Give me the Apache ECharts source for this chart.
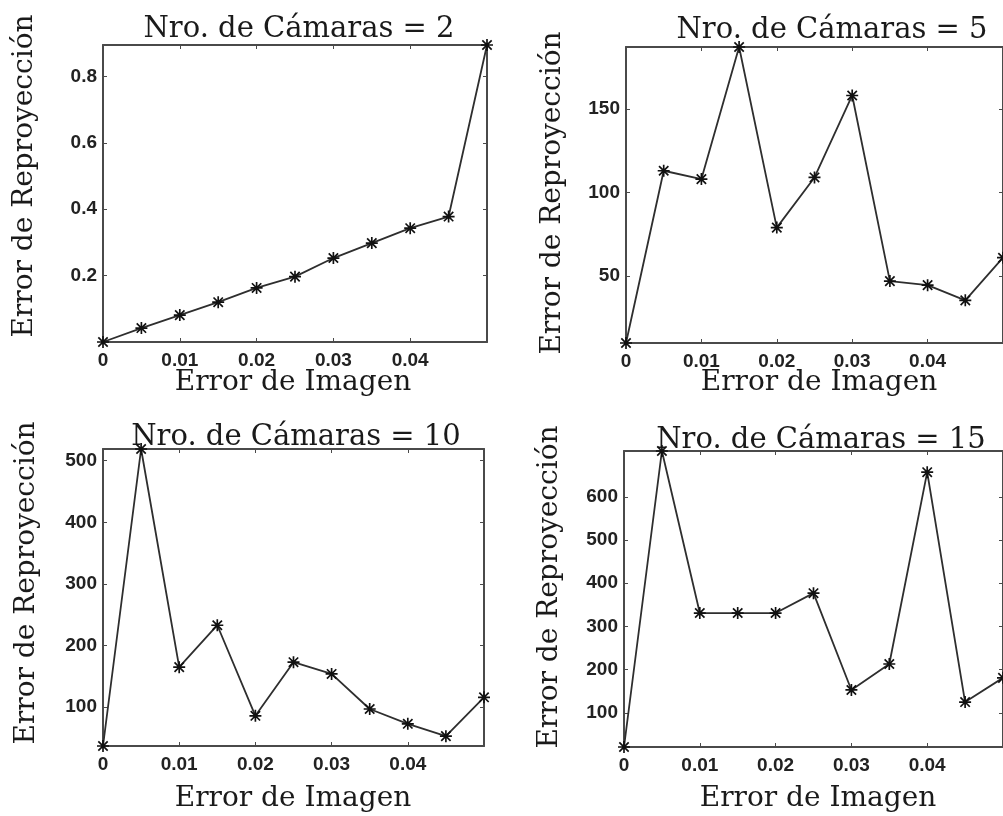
<!DOCTYPE html>
<html>
<head>
<meta charset="utf-8">
<script src="https://cdn.jsdelivr.net/npm/echarts@6/dist/echarts.min.js"></script>
<style>
html,body{margin:0;padding:0;background:#fff;}
#chart{width:1003px;height:816px;}
</style>
</head>
<body>
<div id="chart"></div>
<script>
// ---- data ----
const xValues = [0, 0.005, 0.01, 0.015, 0.02, 0.025, 0.03, 0.035, 0.04, 0.045, 0.05];
const cam2  = [0, 0.042, 0.081, 0.12, 0.163, 0.197, 0.253, 0.298, 0.343, 0.378, 0.895];
const cam5  = [10, 113, 108, 187, 79, 109, 158, 47, 44.6, 35.5, 61];
const cam10 = [37, 519, 165, 233, 86, 173, 154, 97, 73, 53, 116];
const cam15 = [21, 706, 331, 331, 331, 377, 153, 213, 657, 125, 181];
const titles = ['Nro. de Cámaras = 2', 'Nro. de Cámaras = 5', 'Nro. de Cámaras = 10', 'Nro. de Cámaras = 15'];
const xTicks = [0, 0.01, 0.02, 0.03, 0.04, 0.05];
const xTickLabels = [0, 0.01, 0.02, 0.03, 0.04];
const yTicks2  = [0.2, 0.4, 0.6, 0.8];
const yTicks5  = [50, 100, 150];
const yTicks10 = [100, 200, 300, 400, 500];
const yTicks15 = [100, 200, 300, 400, 500, 600];
const xName = 'Error de Imagen';
const yName = 'Error de Reproyección';

const seriesValues = [cam2, cam5, cam10, cam15];
const yTicksAll = [yTicks2, yTicks5, yTicks10, yTicks15];

// ---- layout ----
const grids = [
  {left: 103, top: 45, width: 384, height: 297},
  {left: 626, top: 47, width: 380, height: 296},
  {left: 103, top: 449, width: 381, height: 297},
  {left: 624, top: 451, width: 382, height: 296}
];
const titlePos = [[299, 29], [832, 30], [296, 437], [821, 440]];
const yNamePos = [[25, 176], [553, 193], [27, 583], [550, 587]];
const xNamePos = [[293, 383], [819, 383], [293, 799], [818, 799]];

const axisColor = '#4a4a4a';
const textColor = '#1a1a1a';
const serif = '"DejaVu Serif", "Liberation Serif", serif';
const tickFont = {fontFamily: '"Liberation Sans", Arial, sans-serif', fontWeight: 'bold', fontSize: 19, color: '#222'};

const asterisk = 'path://M8.6 0H11.4V20H8.6Z M0 8.6H20V11.4H0Z M1.2 3.2L3.2 1.2L18.8 16.8L16.8 18.8Z M16.8 1.2L18.8 3.2L3.2 18.8L1.2 16.8Z';

const xAxes = [], yAxes = [], series = [], graphic = [];
for (let i = 0; i < 4; i++) {
  const lineCfg = {show: true, onZero: false, lineStyle: {color: axisColor, width: 2}};
  const tickCfg = {show: true, inside: true, length: 4, lineStyle: {color: axisColor, width: 1}};
  xAxes.push({
    type: 'value', gridIndex: i, min: 0, max: 0.05, position: 'bottom',
    axisLine: lineCfg,
    axisTick: Object.assign({customValues: xTicks}, tickCfg),
    axisLabel: Object.assign({customValues: xTickLabels, margin: 9, formatter: v => String(v)}, tickFont),
    splitLine: {show: false}
  });
  xAxes.push({
    type: 'value', gridIndex: i, min: 0, max: 0.05, position: 'top',
    axisLine: lineCfg,
    axisTick: Object.assign({customValues: xTicks}, tickCfg),
    axisLabel: {show: false}, splitLine: {show: false}
  });
  yAxes.push({
    type: 'value', gridIndex: i, min: 'dataMin', max: 'dataMax', position: 'left',
    axisLine: lineCfg,
    axisTick: Object.assign({customValues: yTicksAll[i]}, tickCfg),
    axisLabel: Object.assign({customValues: yTicksAll[i], margin: 6, formatter: v => String(v)}, tickFont),
    splitLine: {show: false}
  });
  yAxes.push({
    type: 'value', gridIndex: i, min: 'dataMin', max: 'dataMax', position: 'right',
    axisLine: lineCfg,
    axisTick: Object.assign({customValues: yTicksAll[i]}, tickCfg),
    axisLabel: {show: false}, splitLine: {show: false}
  });
  series.push({
    type: 'line', xAxisIndex: 2 * i, yAxisIndex: 2 * i,
    data: xValues.map((x, k) => [x, seriesValues[i][k]]),
    symbol: asterisk, symbolSize: 12, showAllSymbol: true, clip: false,
    itemStyle: {color: '#111'},
    lineStyle: {color: '#2e2e2e', width: 1.8},
    animation: false
  });
  series.push({
    type: 'line', xAxisIndex: 2 * i + 1, yAxisIndex: 2 * i + 1,
    data: xValues.map((x, k) => [x, seriesValues[i][k]]),
    showSymbol: false, lineStyle: {opacity: 0}, silent: true, animation: false
  });
  graphic.push({type: 'text', x: titlePos[i][0], y: titlePos[i][1],
    style: {text: titles[i], font: '29px ' + serif, fill: textColor, textAlign: 'center', textVerticalAlign: 'middle'}});
  graphic.push({type: 'text', x: xNamePos[i][0], y: xNamePos[i][1],
    style: {text: xName, font: '28px ' + serif, fill: textColor, textAlign: 'center', textVerticalAlign: 'middle'}});
  graphic.push({type: 'text', x: yNamePos[i][0], y: yNamePos[i][1], rotation: Math.PI / 2,
    style: {text: yName, font: '28px ' + serif, fill: textColor, textAlign: 'center', textVerticalAlign: 'middle'}});
}

const chart = echarts.init(document.getElementById('chart'), null, {renderer: 'canvas'});
chart.setOption({
  backgroundColor: '#fff',
  animation: false,
  grid: grids,
  xAxis: xAxes,
  yAxis: yAxes,
  series: series,
  graphic: graphic
});
</script>
</body>
</html>
